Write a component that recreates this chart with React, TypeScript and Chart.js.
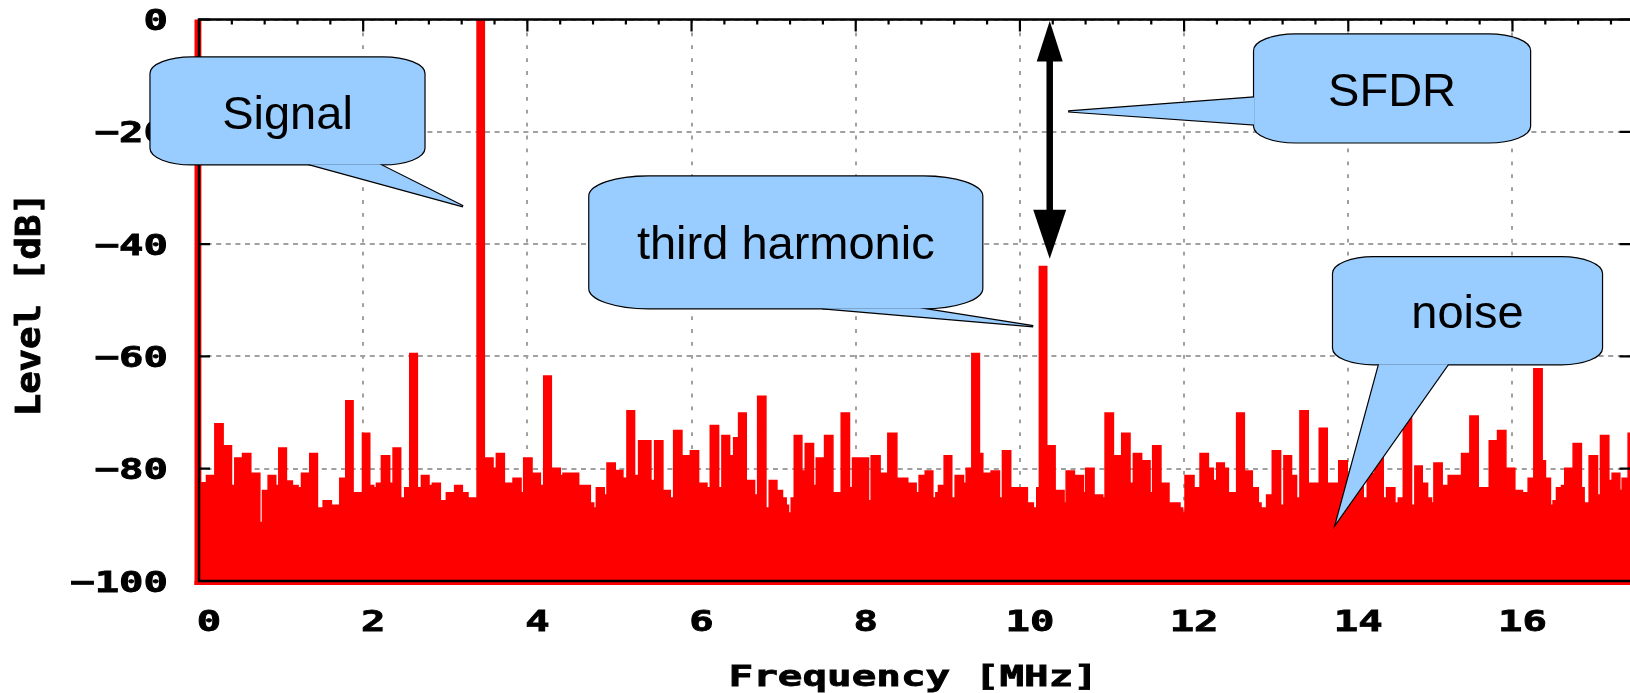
import React, { useEffect, useRef } from "react";
import { Chart, registerables } from "chart.js";

Chart.register(...registerables);

// Spectrum as constant-level steps: each step starts at segmentStartMHz[i]
// and holds segmentLevelDb[i] until the next start frequency.
const segmentStartMHz: number[] = [
  0.0, 0.02, 0.091, 0.193, 0.294, 0.396, 0.436, 0.53, 0.631, 0.741, 0.773, 0.842,
  0.935, 0.972, 1.065, 1.138, 1.207, 1.248, 1.349, 1.443, 1.512, 1.613, 1.715, 1.788,
  1.877, 1.991, 2.08, 2.129, 2.161, 2.222, 2.323, 2.364, 2.457, 2.506, 2.567, 2.66,
  2.709, 2.802, 2.842, 2.94, 3.013, 3.114, 3.208, 3.277,
  3.387, 3.476, 3.582, 3.622, 3.72, 3.825, 3.923, 3.955, 4.057, 4.158, 4.199, 4.292,
  4.401, 4.434, 4.625, 4.767, 4.808, 4.84, 4.937, 4.97, 5.071, 5.164, 5.213, 5.306,
  5.355, 5.505, 5.55, 5.651, 5.741, 5.782, 5.883, 5.985, 6.086, 6.188, 6.228, 6.33,
  6.37, 6.464, 6.513, 6.573, 6.666, 6.768, 6.805,
  6.906, 6.946, 7.04, 7.108, 7.153, 7.181, 7.214, 7.251, 7.344, 7.385, 7.486, 7.519,
  7.62, 7.722, 7.823, 7.924, 7.961, 8.156, 8.188, 8.297, 8.391, 8.501, 8.634, 8.736,
  8.772, 8.846, 8.939, 8.976, 9.008, 9.077, 9.17, 9.211, 9.313, 9.345, 9.414, 9.507,
  9.548, 9.649, 9.751, 9.787, 9.888, 10.091, 10.164, 10.205, 10.237,
  10.327, 10.429, 10.538, 10.563, 10.664, 10.774, 10.802, 10.903, 11.009, 11.037, 11.139, 11.24,
  11.341, 11.382, 11.483, 11.585, 11.617, 11.718, 11.816, 11.95, 11.983, 12.011, 12.121, 12.194,
  12.296, 12.356, 12.397, 12.49, 12.539, 12.64, 12.734, 12.831, 12.904, 12.937, 13.005, 13.074,
  13.176, 13.216, 13.309, 13.37, 13.411, 13.512, 13.646, 13.744, 13.884,
  13.988, 14.089, 14.182, 14.231, 14.324, 14.426, 14.466, 14.568, 14.609, 14.67, 14.771, 14.811,
  14.901, 14.966, 15.014, 15.043, 15.144, 15.217, 15.38, 15.481, 15.583, 15.717, 15.818, 15.92,
  16.029, 16.122, 16.191, 16.26, 16.362, 16.402, 16.463, 16.495, 16.536, 16.597, 16.637, 16.739,
  16.84, 16.873, 16.934, 17.036, 17.072, 17.174, 17.214, 17.308, 17.336, 17.409,
];

const segmentLevelDb: number[] = [
  0, -82.5, -81.2, -72.0, -75.9, -83.0, -78.1, -77.3, -80.8, -89.6, -83.9, -81.2,
  -83.0, -76.3, -82.2, -83.0, -83.4, -80.8, -77.3, -87.0, -85.7, -86.5, -81.7, -67.9,
  -84.3, -73.7, -83.0, -83.4, -82.6, -77.7, -82.6, -76.3, -85.2, -83.4, -59.5, -83.4,
  -81.2, -83.0, -82.6, -85.7, -84.3, -83.0, -84.3, -85.2,
  0, -78.1, -79.9, -77.3, -82.6, -81.7, -84.3, -78.1, -80.8, -83.0, -63.5, -79.9,
  -81.2, -80.8, -83.0, -86.1, -87.0, -83.4, -84.7, -79.0, -80.3, -81.7, -69.7, -81.2,
  -75.0, -82.1, -75.0, -83.9, -85.2, -73.2, -77.7, -76.8, -82.6, -83.4, -72.3, -83.4,
  -74.1, -77.7, -74.5, -70.1, -82.1, -84.7, -67.1,
  -87.0, -82.1, -83.9, -85.2, -86.5, -87.9, -85.2, -74.1, -80.4, -75.5, -83.0, -78.1,
  -74.1, -84.3, -70.1, -83.4, -78.1, -85.7, -77.7, -80.8, -73.7, -81.7, -82.6, -84.3,
  -81.2, -80.4, -85.2, -84.3, -83.0, -77.7, -85.2, -81.2, -82.6, -79.9, -59.5, -77.3,
  -80.8, -80.4, -85.2, -76.8, -83.4, -86.1, -87.0, -83.4, -44.0,
  -75.9, -83.9, -86.1, -80.4, -81.2, -84.3, -79.9, -84.7, -85.2, -70.1, -77.7, -73.7,
  -82.6, -77.3, -78.6, -84.3, -75.9, -82.6, -86.1, -87.0, -87.9, -81.2, -83.4, -77.3,
  -79.9, -82.1, -79.0, -79.9, -84.3, -70.1, -80.4, -83.4, -86.1, -87.0, -84.7, -76.8,
  -86.5, -77.7, -81.2, -85.2, -69.7, -82.6, -72.8, -82.6, -78.6,
  -84.0, -77.0, -85.2, -80.8, -76.8, -85.2, -83.4, -86.1, -85.2, -69.7, -86.5, -79.5,
  -82.6, -85.2, -86.1, -79.0, -83.0, -81.2, -77.3, -70.6, -83.4, -75.0, -73.2, -79.9,
  -83.9, -84.3, -81.7, -62.2, -78.6, -81.7, -86.5, -85.7, -83.4, -83.0, -79.9, -75.5,
  -83.4, -86.1, -77.7, -84.7, -74.1, -82.1, -80.8, -83.9, -81.7, -73.7,
];

const frequencyMinMHz = 0;
const frequencyMaxMHz = 17.45;
const levelMinDb = -100;
const levelMaxDb = 0;
const xTickStepMHz = 2;
const xMinorTicksPerMajor = 5;
const yTickStepDb = 20;

const xAxisTitle = "Frequency [MHz]";
const yAxisTitle = "Level [dB]";

// Callout bubbles, anchored in data space (MHz, dB).
type Callout = {
  text: string;
  box: [number, number, number, number]; // x1, x2, yTop, yBottom
  pointerBase: [[number, number], [number, number]];
  tip: [number, number];
  textDb: number;
};

const callouts: Callout[] = [
  { text: "Signal", box: [-0.59, 2.746, -6.76, -25.8], pointerBase: [[1.346, -25.8], [2.198, -25.8]], tip: [3.216, -33.27], textDb: -17.2 },
  { text: "SFDR", box: [12.853, 16.214, -2.67, -21.89], pointerBase: [[12.853, -13.88], [12.853, -18.68]], tip: [10.588, -16.37], textDb: -13.1 },
  { text: "third harmonic", box: [4.755, 9.541, -27.94, -51.42], pointerBase: [[7.593, -51.42], [8.774, -51.42]], tip: [10.162, -54.63], textDb: -40.4 },
  { text: "noise", box: [13.815, 17.09, -42.35, -61.39], pointerBase: [[14.375, -61.39], [15.215, -61.39]], tip: [13.851, -89.68], textDb: -52.6 },
];

// Double-headed arrow marking the spurious-free dynamic range.
const sfdrArrowMHz = 10.363;
const sfdrArrowDb: [number, number] = [0, -42.6];

const CANVAS_W = 1660;
const CANVAS_H = 693;

const LABEL_FONT = 'bold 29px "DejaVu Sans Mono"';
const CALLOUT_FONT = '47px "Liberation Sans", Arial, sans-serif';

function stretchedText(
  ctx: CanvasRenderingContext2D,
  text: string,
  x: number,
  y: number,
  align: CanvasTextAlign,
  sx: number,
  sy = 1,
  rotate = 0
) {
  ctx.save();
  ctx.translate(x, y);
  if (rotate) ctx.rotate(rotate);
  ctx.scale(sx, sy);
  ctx.font = LABEL_FONT;
  ctx.fillStyle = "#000";
  ctx.strokeStyle = "#000";
  ctx.lineWidth = 0.8;
  ctx.textAlign = align;
  ctx.textBaseline = "alphabetic";
  ctx.fillText(text, 0, 0);
  ctx.strokeText(text, 0, 0);
  ctx.restore();
}

function roundedBox(ctx: CanvasRenderingContext2D, x1: number, y1: number, x2: number, y2: number) {
  const rx = (x2 - x1) * 0.15;
  const ry = (y2 - y1) * 0.15;
  ctx.beginPath();
  ctx.moveTo(x1 + rx, y1);
  ctx.lineTo(x2 - rx, y1);
  ctx.ellipse(x2 - rx, y1 + ry, rx, ry, 0, -Math.PI / 2, 0);
  ctx.lineTo(x2, y2 - ry);
  ctx.ellipse(x2 - rx, y2 - ry, rx, ry, 0, 0, Math.PI / 2);
  ctx.lineTo(x1 + rx, y2);
  ctx.ellipse(x1 + rx, y2 - ry, rx, ry, 0, Math.PI / 2, Math.PI);
  ctx.lineTo(x1, y1 + ry);
  ctx.ellipse(x1 + rx, y1 + ry, rx, ry, 0, Math.PI, Math.PI * 1.5);
  ctx.closePath();
}

const frameAndNotes = {
  id: "frameAndNotes",
  afterDraw(chart: any) {
    const ctx: CanvasRenderingContext2D = chart.ctx;
    const { left, right, top, bottom } = chart.chartArea;
    const xs = chart.scales.x;
    const ys = chart.scales.y;
    const X = (v: number) => xs.getPixelForValue(v);
    const Y = (v: number) => ys.getPixelForValue(v);

    ctx.save();
    // fill edge of the spectrum spilling past the left and bottom border
    ctx.fillStyle = "#ff0000";
    ctx.fillRect(left - 4.5, top, 4.5, bottom - top + 4);
    ctx.fillRect(left - 4.5, bottom, right - left + 4.5, 4);

    // border
    ctx.strokeStyle = "#000";
    ctx.lineWidth = 2.5;
    ctx.strokeRect(left, top, right - left, bottom - top);

    // inward tick marks on the top edge (major + minor) and both side edges
    ctx.lineWidth = 2.2;
    ctx.beginPath();
    const minorStep = xTickStepMHz / xMinorTicksPerMajor;
    for (let i = 0; ; i++) {
      const v = frequencyMinMHz + i * minorStep;
      if (v > frequencyMaxMHz + 1e-9) break;
      const px = X(v);
      const len = i % xMinorTicksPerMajor === 0 ? 12 : 5;
      ctx.moveTo(px, top);
      ctx.lineTo(px, top + len);
    }
    for (const t of ys.ticks) {
      const py = Y(t.value);
      ctx.moveTo(left, py);
      ctx.lineTo(left + 11, py);
      ctx.moveTo(right, py);
      ctx.lineTo(right - 12, py);
    }
    ctx.stroke();

    // tick labels
    for (const t of ys.ticks) {
      const label = String(t.value).replace("-", "\u2212");
      stretchedText(ctx, label, left - 31, Y(t.value) + 10.5, "right", 1.4);
    }
    for (const t of xs.ticks) {
      stretchedText(ctx, String(t.value), X(t.value) + 10, bottom + 49.5, "center", 1.4);
    }

    // axis titles
    stretchedText(ctx, xAxisTitle, (left + right) / 2 - 2, bottom + 105, "center", 1.41);
    stretchedText(ctx, yAxisTitle, left - 159.5, (top + bottom) / 2 + 4, "center", 1.283, 1.14, -Math.PI / 2);

    // SFDR arrow
    const ax = X(sfdrArrowMHz);
    const ayTop = Y(sfdrArrowDb[0]);
    const ayBot = Y(sfdrArrowDb[1]);
    ctx.fillStyle = "#000";
    ctx.lineWidth = 6.5;
    ctx.beginPath();
    ctx.moveTo(ax, ayTop + 30);
    ctx.lineTo(ax, ayBot - 35);
    ctx.stroke();
    ctx.beginPath();
    ctx.moveTo(ax, ayTop + 1.5);
    ctx.lineTo(ax + 13, ayTop + 42);
    ctx.lineTo(ax - 13, ayTop + 42);
    ctx.closePath();
    ctx.fill();
    ctx.beginPath();
    ctx.moveTo(ax, ayBot);
    ctx.lineTo(ax + 16.5, ayBot - 49);
    ctx.lineTo(ax - 16.5, ayBot - 49);
    ctx.closePath();
    ctx.fill();

    // callouts
    for (const c of callouts) {
      const bx1 = X(c.box[0]);
      const bx2 = X(c.box[1]);
      const by1 = Y(c.box[2]);
      const by2 = Y(c.box[3]);
      const p1 = [X(c.pointerBase[0][0]), Y(c.pointerBase[0][1])];
      const p2 = [X(c.pointerBase[1][0]), Y(c.pointerBase[1][1])];
      const tp = [X(c.tip[0]), Y(c.tip[1])];
      const pointer = () => {
        ctx.beginPath();
        ctx.moveTo(p1[0], p1[1]);
        ctx.lineTo(tp[0], tp[1]);
        ctx.lineTo(p2[0], p2[1]);
        ctx.closePath();
      };
      ctx.strokeStyle = "#000";
      ctx.fillStyle = "#99ccff";
      ctx.lineWidth = 2.4;
      ctx.lineJoin = "miter";
      roundedBox(ctx, bx1, by1, bx2, by2);
      ctx.stroke();
      pointer();
      ctx.stroke();
      roundedBox(ctx, bx1, by1, bx2, by2);
      ctx.fill();
      pointer();
      ctx.fill();

      ctx.fillStyle = "#000";
      ctx.font = CALLOUT_FONT;
      ctx.textAlign = "center";
      ctx.textBaseline = "middle";
      ctx.fillText(c.text, (bx1 + bx2) / 2, Y(c.textDb));
    }
    ctx.restore();
  },
};

export default function App() {
  const canvasRef = useRef<HTMLCanvasElement | null>(null);

  useEffect(() => {
    const canvas = canvasRef.current;
    if (!canvas) return;

    const points = segmentStartMHz.map((f, i) => ({ x: f, y: segmentLevelDb[i] }));
    points.push({ x: frequencyMaxMHz, y: segmentLevelDb[segmentLevelDb.length - 1] });

    const chart = new Chart(canvas, {
      type: "line",
      data: {
        datasets: [
          {
            data: points,
            stepped: "before",
            fill: "start",
            backgroundColor: "#ff0000",
            borderColor: "#ff0000",
            borderWidth: 1.5,
            pointRadius: 0,
            tension: 0,
          },
        ],
      },
      options: {
        animation: false,
        responsive: false,
        devicePixelRatio: 1,
        events: [],
        layout: { padding: { left: 199, top: 19.5, right: CANVAS_W - 1631.5, bottom: CANVAS_H - 581 } },
        plugins: { legend: { display: false }, tooltip: { enabled: false } },
        scales: {
          x: {
            type: "linear",
            min: frequencyMinMHz,
            max: frequencyMaxMHz,
            ticks: { display: false, stepSize: xTickStepMHz, includeBounds: false },
            grid: { color: "#a0a0a0", lineWidth: 2, drawTicks: false },
            border: { display: false, dash: [3.8, 9.1] },
            afterFit: (s: any) => {
              s.height = 0;
            },
          },
          y: {
            type: "linear",
            min: levelMinDb,
            max: levelMaxDb,
            ticks: { display: false, stepSize: yTickStepDb },
            grid: { color: "#a0a0a0", lineWidth: 2, drawTicks: false },
            border: { display: false, dash: [5, 4.6], dashOffset: 2 },
            afterFit: (s: any) => {
              s.width = 0;
            },
          },
        },
      },
      plugins: [frameAndNotes],
    });

    return () => chart.destroy();
  }, []);

  return (
    <div
      style={{
        position: "fixed",
        left: 0,
        top: 0,
        width: 1630,
        height: 693,
        overflow: "hidden",
        background: "#ffffff",
      }}
    >
      <canvas
        ref={canvasRef}
        width={CANVAS_W}
        height={CANVAS_H}
        style={{ width: CANVAS_W, height: CANVAS_H, display: "block" }}
      />
    </div>
  );
}
